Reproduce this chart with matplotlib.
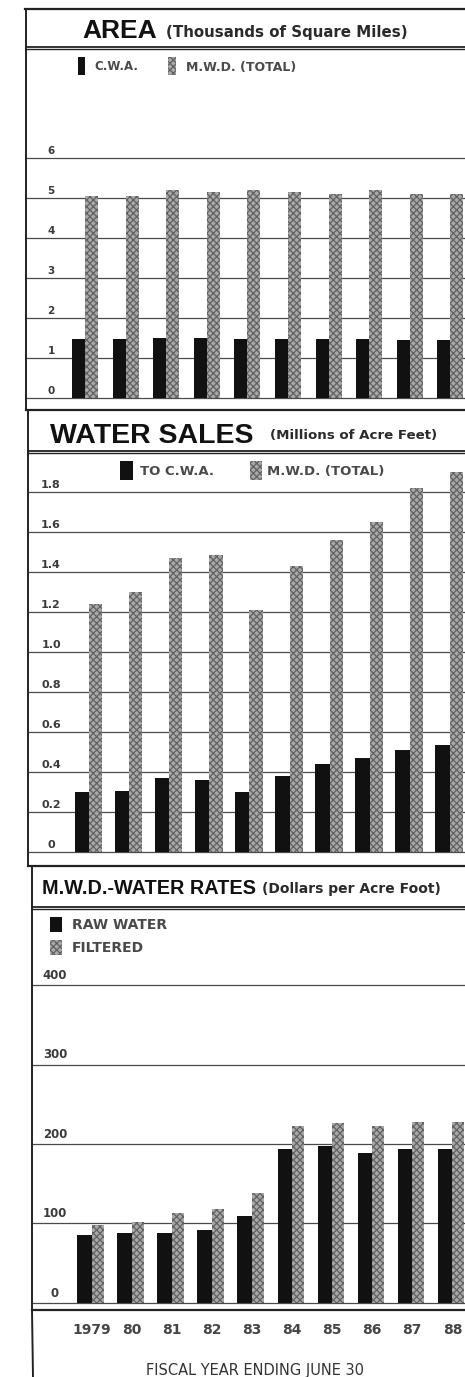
import matplotlib
matplotlib.use("Agg")
import matplotlib.pyplot as plt
from matplotlib.lines import Line2D
from matplotlib.patches import Rectangle
import numpy as np

# ---------------- data ----------------
years = ["1979", "80", "81", "82", "83", "84", "85", "86", "87", "88"]

area_cwa = [1.47, 1.47, 1.50, 1.50, 1.47, 1.47, 1.47, 1.47, 1.45, 1.45]
area_mwd = [5.05, 5.05, 5.20, 5.15, 5.20, 5.15, 5.10, 5.20, 5.10, 5.10]
area_ticks = [0, 1, 2, 3, 4, 5, 6]

sales_cwa = [0.30, 0.305, 0.37, 0.36, 0.30, 0.38, 0.44, 0.47, 0.51, 0.535]
sales_mwd = [1.24, 1.30, 1.47, 1.485, 1.21, 1.43, 1.56, 1.65, 1.82, 1.90]
sales_ticks = [0, 0.2, 0.4, 0.6, 0.8, 1.0, 1.2, 1.4, 1.6, 1.8]
sales_tick_labels = ["0", "0.2", "0.4", "0.6", "0.8", "1.0", "1.2", "1.4", "1.6", "1.8"]

rate_raw = [85, 88, 88, 92, 109, 193, 197, 189, 194, 193]
rate_filtered = [98, 102, 113, 118, 138, 222, 226, 222, 227, 227]
rate_ticks = [0, 100, 200, 300, 400]

# ---------------- style ----------------
W, H = 465, 1377
plt.rcParams["hatch.linewidth"] = 0.9
BLACK = "#111111"
GRAY_FACE = "#a8a8a8"
GRAY_HATCH = "#626262"
TXT = "#3a3a3a"
SMALL = ["DejaVu Sans"]
TITLE = ["Liberation Sans", "DejaVu Sans"]

fig = plt.figure(figsize=(W / 100, H / 100), dpi=100)
fig.patch.set_facecolor("white")


def fx(px):
    return px / W


def fy(py):
    return 1 - py / H


def fline(x0, y0, x1, y1, lw=1.5, color="#222222"):
    fig.add_artist(Line2D([fx(x0), fx(x1)], [fy(y0), fy(y1)],
                          transform=fig.transFigure, lw=lw, color=color))


def make_axes(l, t, r, b):
    return fig.add_axes([fx(l), fy(b), fx(r) - fx(l), (b - t) / H])


def setup_panel(ax, l, r, t, b, c0, spacing, zero_px, px_per_unit,
                ticks, tick_labels, label_x_px, label_dy, label_size=7.5):
    ax.set_xlim((l - c0) / spacing, (r - c0) / spacing)
    ax.set_ylim(-(b - zero_px) / px_per_unit, (zero_px - t) / px_per_unit)
    ax.set_yticks(ticks)
    ax.tick_params(left=False, labelleft=False, bottom=False, labelbottom=False)
    ax.grid(axis="y", color="#4a4a4a", lw=0.9)
    ax.set_axisbelow(True)
    for s in ["top", "right", "bottom"]:
        ax.spines[s].set_visible(False)
    ax.spines["left"].set_linewidth(1.4)
    ax.spines["left"].set_color("#222222")
    xfrac = (label_x_px - l) / (r - l)
    for v, lab in zip(ticks, tick_labels):
        ax.annotate(lab, xy=(xfrac, v), xycoords=("axes fraction", "data"),
                    xytext=(0, label_dy), textcoords="offset pixels",
                    ha="center", va="bottom", fontsize=label_size,
                    fontweight="bold", color=TXT, family=SMALL)


def draw_bars(ax, a, b, w1, w2):
    x = np.arange(len(a))
    ax.bar(x - w1 / 2, a, width=w1, color=BLACK, lw=0, zorder=3)
    ax.bar(x + w2 / 2, b, width=w2, facecolor=GRAY_FACE, edgecolor=GRAY_HATCH,
           hatch="xxxxx", lw=0, zorder=3)


def legend_key(x0, y0, x1, y1, kind):
    if kind == "black":
        p = Rectangle((fx(x0), fy(y1)), fx(x1) - fx(x0), (y1 - y0) / H,
                      transform=fig.transFigure, facecolor=BLACK, lw=0)
    else:
        p = Rectangle((fx(x0), fy(y1)), fx(x1) - fx(x0), (y1 - y0) / H,
                      transform=fig.transFigure, facecolor=GRAY_FACE,
                      edgecolor=GRAY_HATCH, hatch="xxxxx", lw=0)
    fig.add_artist(p)


def legend_text(x, y, s, size=8):
    fig.text(fx(x), fy(y), s, ha="left", va="center", fontsize=size,
             fontweight="bold", color="#4a4a4a", family=SMALL)


# ---------------- frame / title boxes ----------------
fline(25, 9, 470, 9, lw=1.6)
fline(26, 47, 470, 47, lw=1.3)
fline(26, 49, 470, 49, lw=1.0)
fline(26, 410, 470, 410, lw=1.6)
fline(28, 451, 470, 451, lw=1.3)
fline(28, 453, 470, 453, lw=1.0)
fline(28, 866, 470, 866, lw=1.6)
fline(32, 907, 470, 907, lw=1.3)
fline(32, 909, 470, 909, lw=1.0)
fline(26, 9, 26, 49, lw=1.4)
fline(28, 410, 28, 453, lw=1.4)
fline(32, 866, 32, 909, lw=1.4)

# titles
fig.text(fx(82), fy(38), "AREA", fontsize=19, fontweight="bold",
         family=TITLE, color="#111111", va="baseline")
fig.text(fx(166), fy(37), "(Thousands of Square Miles)", fontsize=10.8,
         fontweight="bold", family=SMALL, color="#2a2a2a", va="baseline")
fig.text(fx(50), fy(443), "WATER SALES", fontsize=20.5, fontweight="bold",
         family=TITLE, color="#111111", va="baseline")
fig.text(fx(270), fy(439), "(Millions of Acre Feet)", fontsize=9.6,
         fontweight="bold", family=SMALL, color="#2a2a2a", va="baseline")
fig.text(fx(42), fy(894), "M.W.D.-WATER RATES", fontsize=14.3, fontweight="bold",
         family=TITLE, color="#111111", va="baseline")
fig.text(fx(262), fy(893), "(Dollars per Acre Foot)", fontsize=10,
         fontweight="bold", family=SMALL, color="#2a2a2a", va="baseline")

# ---------------- panel 1: area ----------------
l1, t1, r1, b1 = 26, 49, 485, 410
ax1 = make_axes(l1, t1, r1, b1)
setup_panel(ax1, l1, r1, t1, b1, c0=85, spacing=40.6, zero_px=398,
            px_per_unit=40, ticks=area_ticks,
            tick_labels=[str(t) for t in area_ticks], label_x_px=51, label_dy=2)
draw_bars(ax1, area_cwa, area_mwd, 0.32, 0.32)
legend_key(78, 57, 85, 75, "black")
legend_text(94, 67, "C.W.A.", 8.5)
legend_key(168, 57, 176, 75, "gray")
legend_text(186, 67, "M.W.D. (TOTAL)", 9)

# ---------------- panel 2: water sales ----------------
l2, t2, r2, b2 = 28, 453, 485, 866
ax2 = make_axes(l2, t2, r2, b2)
setup_panel(ax2, l2, r2, t2, b2, c0=89, spacing=40.1, zero_px=852,
            px_per_unit=200, ticks=sales_ticks, tick_labels=sales_tick_labels,
            label_x_px=51, label_dy=2, label_size=8)
draw_bars(ax2, sales_cwa, sales_mwd, 0.36, 0.33)
legend_key(120, 461, 133, 480, "black")
legend_text(140, 472, "TO C.W.A.", 9.5)
legend_key(250, 461, 262, 480, "gray")
legend_text(267, 472, "M.W.D. (TOTAL)", 9.5)

# ---------------- panel 3: water rates ----------------
l3, t3, r3, b3 = 32, 909, 485, 1310
ax3 = make_axes(l3, t3, r3, b3)
setup_panel(ax3, l3, r3, t3, b3, c0=91.5, spacing=40.1, zero_px=1302.7,
            px_per_unit=0.794, ticks=rate_ticks,
            tick_labels=[str(t) for t in rate_ticks], label_x_px=55, label_dy=3,
            label_size=8.5)
draw_bars(ax3, rate_raw, rate_filtered, 0.36, 0.3)
ax3.spines["bottom"].set_visible(True)
ax3.spines["bottom"].set_linewidth(1.6)
ax3.spines["bottom"].set_color("#222222")
ax3.set_xticks(np.arange(len(years)))
ax3.set_xticklabels(years)
ax3.tick_params(bottom=False, labelbottom=True, pad=6, labelsize=10,
                labelcolor="#454545")
for lab in ax3.get_xticklabels():
    lab.set_fontweight("bold")
    lab.set_family(SMALL)
legend_key(50, 917, 62, 932, "black")
legend_text(72, 925, "RAW WATER", 10)
legend_key(50, 940, 62, 955, "gray")
legend_text(72, 948, "FILTERED", 10)
# left frame continues below the axes
fline(32, 1310, 33, 1377, lw=1.4)

fig.text(fx(255), fy(1370), "FISCAL YEAR ENDING JUNE 30", ha="center",
         va="center", fontsize=10.5, color="#333333", family=SMALL)

fig.savefig("out.png", dpi=100, facecolor="white")
